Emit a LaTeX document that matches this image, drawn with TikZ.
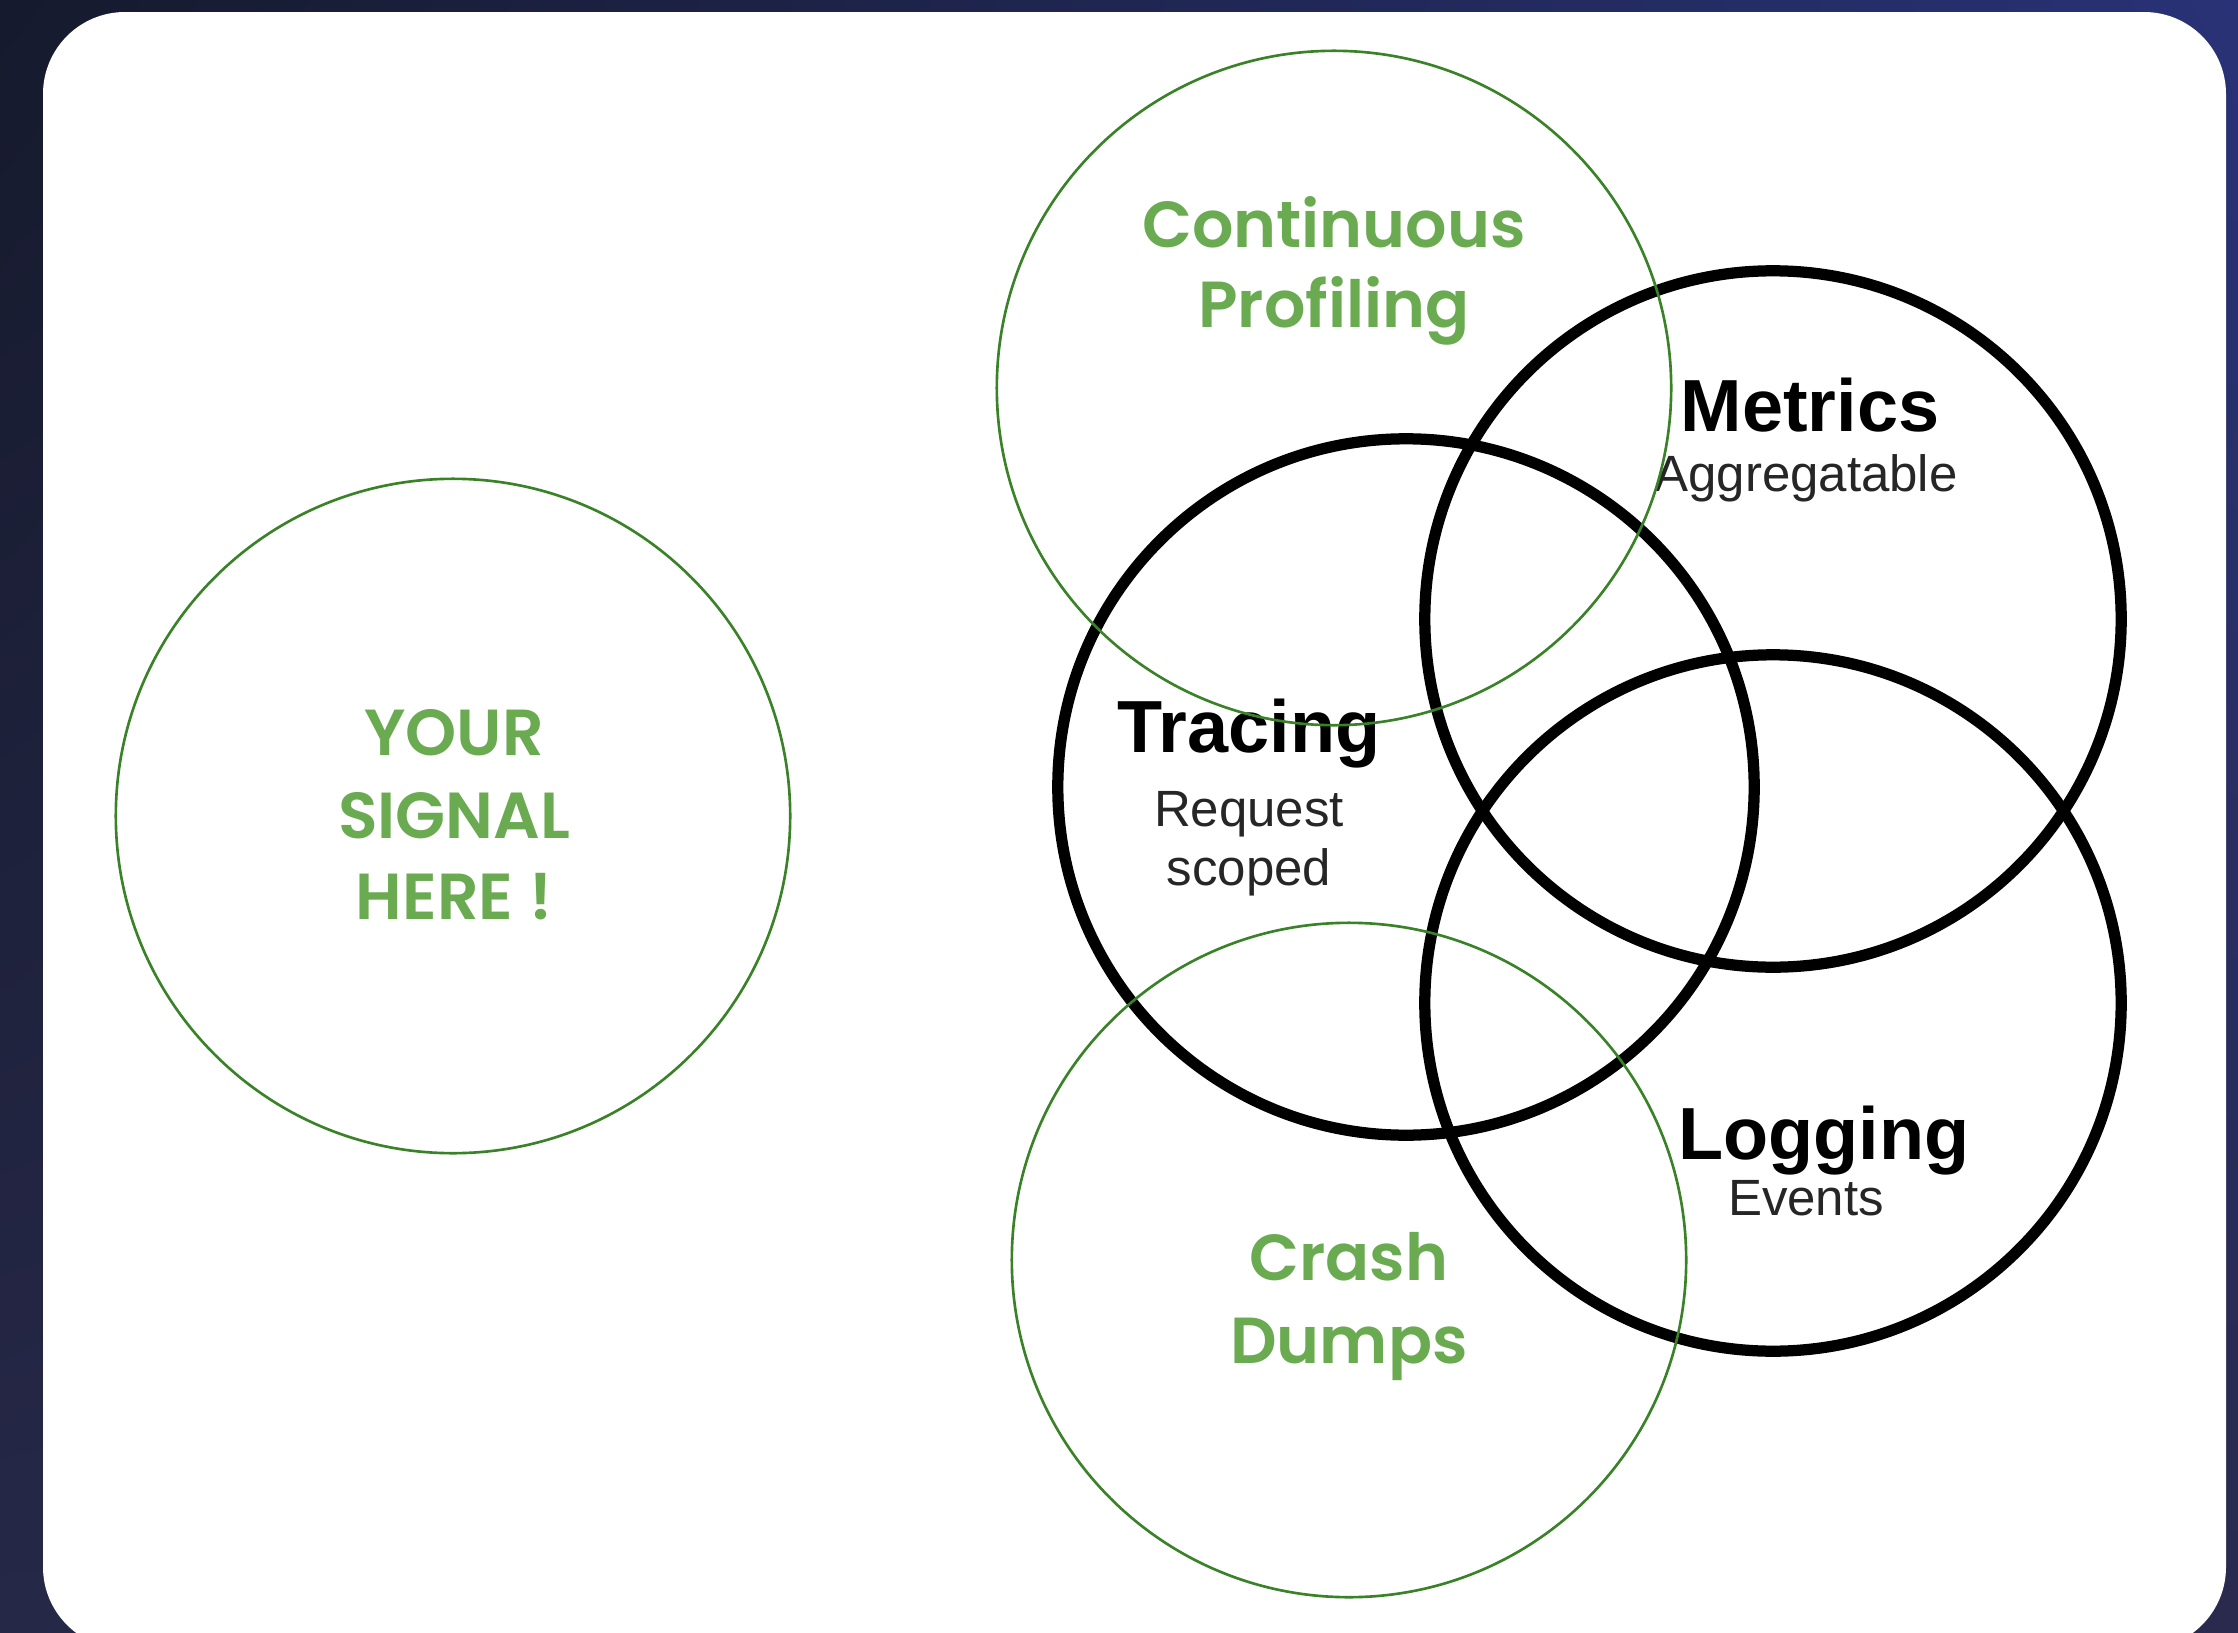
\documentclass[tikz,border=0pt]{standalone}
\usepackage{fontspec}
\usetikzlibrary{shadings}
\setmainfont{Liberation Sans}
\newfontfamily\greenfont{Poppins}[UprightFont=* SemiBold]
\definecolor{bgUL}{RGB}{22,26,45}
\definecolor{bgUR}{RGB}{40,50,118}
\definecolor{bgLL}{RGB}{38,40,72}
\definecolor{bgLR}{RGB}{42,42,78}
\definecolor{ringgreen}{RGB}{58,130,40}
\definecolor{textgreen}{RGB}{106,170,80}
\tikzset{
  blackring/.style={circle, draw=black, line width=3.2pt, minimum size=6.96cm, inner sep=0pt},
  greenring/.style={circle, draw=ringgreen, line width=0.75pt, minimum size=6.74cm, inner sep=0pt},
  gtext/.style={anchor=base, text=textgreen, font=\greenfont\fontsize{18.5}{22}\selectfont, inner sep=0pt},
  btitle/.style={anchor=base, text=black, font=\bfseries\fontsize{21}{25}\selectfont, inner sep=0pt},
  bsub/.style={anchor=base, text=black!85, font=\fontsize{14.5}{17}\selectfont, inner sep=0pt}
}
\begin{document}
\begin{tikzpicture}[x=0.01cm, y=-0.01cm]
\useasboundingbox (0,0) rectangle (2238,1633);
\shade[upper left=bgUL, upper right=bgUR, lower left=bgLL, lower right=bgLR] (0,0) rectangle (2238,1633);
\fill[white, rounded corners=0.82cm] (43,12) rectangle (2226,1649);

% black circles
\node[blackring] (tracing) at (1406,787) {};
\node[blackring] (metrics) at (1773,619) {};
\node[blackring] (logging) at (1773,1003) {};

% black labels
\node[btitle] (tTracing) at (1249,752) {Tracing};
\node[bsub] (tRequest) at (1249,826) {Request};
\node[bsub] (tScoped) at (1249,885) {scoped};
\node[btitle] (tMetrics) at (1810,431) {Metrics};
\node[bsub] (tAggr) at (1806,491) {Aggregatable};
\node[btitle] (tLogging) at (1824,1159) {Logging};
\node[bsub] (tEvents) at (1806,1215) {Events};

% green circles
\node[greenring] (signal) at (453,816) {};
\node[greenring] (profiling) at (1334,388) {};
\node[greenring] (crash) at (1349,1260) {};

% green labels
\node[gtext] (gYour) at (454,755) {YOUR};
\node[gtext] (gSignal) at (454,838) {SIGNAL};
\node[gtext] (gHere) at (454,919) {HERE !};
\node[gtext] (gCont) at (1334,247) {Continuous};
\node[gtext] (gProf) at (1334,327) {Profiling};
\node[gtext] (gCrash) at (1349,1280) {Crash};
\node[gtext] (gDumps) at (1349,1363) {Dumps};
\end{tikzpicture}
\end{document}
